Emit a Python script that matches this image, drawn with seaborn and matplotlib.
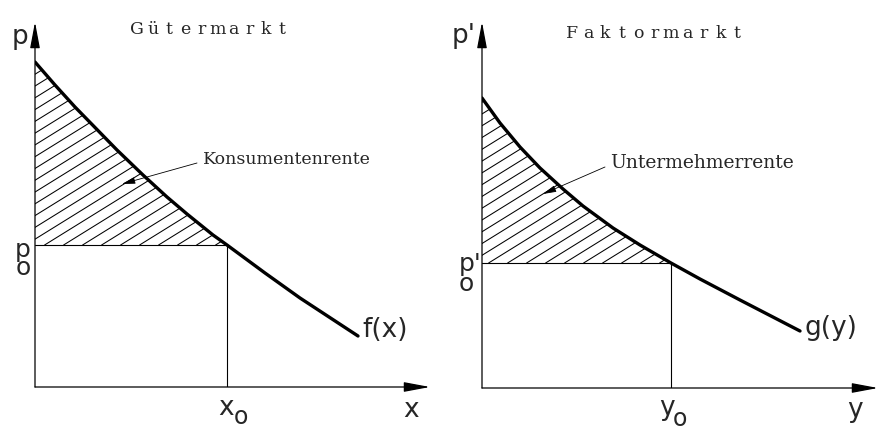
import numpy as np
import pandas as pd
import seaborn as sns
import matplotlib.pyplot as plt

# left panel (Gütermarkt): demand curve f(x)
fx_x = [0, 20, 40, 82, 108, 132, 152, 178, 192, 230, 265, 323]
fx_y = [325, 302, 280, 237, 212, 190, 173, 152, 142, 114, 89, 51]
x0, p0 = 192, 142

# right panel (Faktormarkt): curve g(y)
gy_x = [0, 18, 38, 58, 81, 101, 131, 158, 189, 218, 258, 318]
gy_y = [290, 265, 241, 220, 199, 182, 160, 143, 125, 109, 88, 57]
y0, p0_prime = 189, 125

TITLES = ["Gütermarkt", "Faktormarkt"]
AREA_LABELS = ["Konsumentenrente", "Untermehmerrente"]

sns.set_theme(style="white")
plt.rcParams["font.family"] = ["DejaVu Sans"]
SERIF = "DejaVu Serif"

fig = plt.figure(figsize=(8.83, 4.34), dpi=100)
W, H = 883, 434


def make_axes(ox, oy, w, h):
    ax = fig.add_axes([ox / W, (H - oy) / H, w / W, h / H])
    ax.set_axis_off()
    arrow = dict(arrowstyle="-|>,head_length=1.6,head_width=0.3", color="black",
                 lw=0.9, mutation_scale=10, shrinkA=0, shrinkB=0)
    ax.annotate("", xy=(w, 0), xytext=(0, 0), arrowprops=arrow, annotation_clip=False)
    ax.annotate("", xy=(0, h), xytext=(0, 0), arrowprops=arrow, annotation_clip=False)
    return ax


def panel(ax, cx, cy, q0, price0, w, h, slope=0.62, step=19):
    df = pd.DataFrame({"q": cx, "p": cy})
    # guide lines
    ax.plot([0, q0], [price0, price0], color="black", lw=0.8)
    ax.plot([q0, q0], [0, price0], color="black", lw=0.8)
    # hatched surplus area
    sub = df[df["q"] <= q0]
    poly = ax.fill_between(sub["q"], sub["p"], price0, facecolor="none", lw=0)
    clip = poly.get_paths()[0]
    top = max(cy)
    for c in np.arange(q0 - step * 0.6, -top / slope - step, -step):
        ln, = ax.plot([c, c + (top - price0) / slope + 50],
                      [price0, top + 50 * slope], color="black", lw=0.75)
        ln.set_clip_path(clip, ax.transData)
    sns.lineplot(data=df, x="q", y="p", sort=False, color="black", lw=2.4, ax=ax,
                 estimator=None)
    ax.set_xlim(0, w)
    ax.set_ylim(0, h)
    ax.set_axis_off()


leader = dict(arrowstyle="-|>,head_length=0.8,head_width=0.2", color="black",
              lw=0.6, mutation_scale=10, shrinkA=0, shrinkB=0)
lab = dict(fontsize=19, ha="center", va="center", clip_on=False)
sub_lab = dict(fontsize=17, ha="center", va="center", clip_on=False)

# ---- left panel
axL = make_axes(35, 387, 395, 365)
panel(axL, fx_x, fx_y, x0, p0, 395, 365)

axL.text(-15, 350, "p", **lab)
for i, ch in enumerate(TITLES[0]):
    axL.text(102 + i * 16.1, 357, ch, family=SERIF, fontsize=12.5, ha="center", va="center")
axL.text(168, 227, AREA_LABELS[0], family=SERIF, fontsize=12.5, ha="left", va="center")
axL.annotate("", xy=(87, 203), xytext=(162, 224), arrowprops=leader)
axL.text(-12, 128, "p\no", fontsize=18, ha="center", va="center", linespacing=0.65,
         multialignment="center", clip_on=False)
axL.text(191, -21, "x", **lab)
axL.text(206, -30, "o", **sub_lab)
axL.text(376, -23, "x", **lab)
axL.text(327, 57, "f(x)", fontsize=19, ha="left", va="center")

# ---- right panel
axR = make_axes(482, 388, 396, 366)
panel(axR, gy_x, gy_y, y0, p0_prime, 396, 366)

axR.text(-18, 352, "p'", **lab)
for i, ch in enumerate(TITLES[1]):
    axR.text(90 + i * 16.5, 355, ch, family=SERIF, fontsize=12.5, ha="center", va="center")
axR.text(128, 225, AREA_LABELS[1], family=SERIF, fontsize=13.5, ha="left", va="center")
axR.annotate("", xy=(61, 194), xytext=(123, 221), arrowprops=leader)
axR.text(-12, 114, "p'\no", fontsize=18, ha="center", va="center", linespacing=0.75,
         multialignment="left", clip_on=False)
axR.text(185, -20, "y", **lab)
axR.text(198, -31, "o", **sub_lab)
axR.text(373, -22, "y", **lab)
axR.text(323, 60, "g(y)", fontsize=19, ha="left", va="center")

fig.savefig("out.png", dpi=100)
